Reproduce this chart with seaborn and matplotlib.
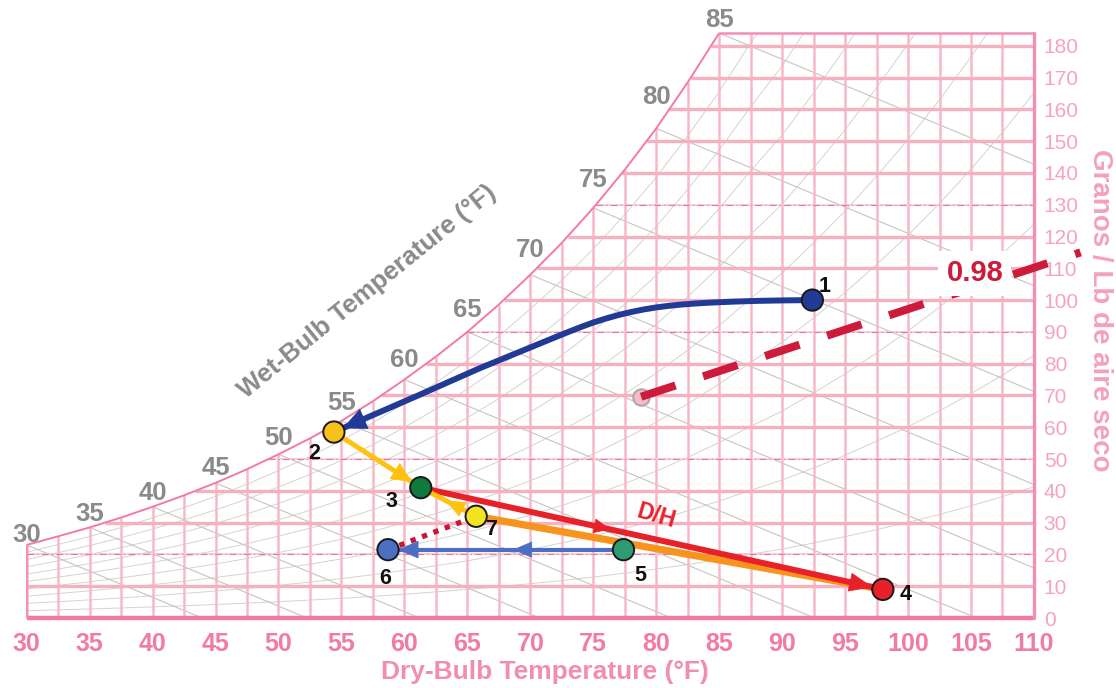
import numpy as np
import matplotlib
matplotlib.use("Agg")
import matplotlib.pyplot as plt
import seaborn as sns
import pandas as pd
from matplotlib.patches import Polygon

# ---------------- data ----------------
# saturation curve (dry-bulb °F -> grains / lb dry air)
sat_t = [30, 32.5, 35, 37.5, 40, 42.5, 45, 47.5, 50, 52.5, 55, 57.5, 60,
         62.5, 65, 67.5, 70, 72.5, 75, 77.5, 80, 82.5, 85]
sat_w = [23, 25.7, 28.5, 31.6, 35, 38.6, 42.5, 46.8, 51.5, 56.5, 62, 68.2, 75,
         82.2, 90, 98.6, 108, 118, 129, 141, 154, 168.5, 184]
# saturation continued past the top of the chart (for the background RH curves)
sat_ext_t = [87.5, 90, 92.5, 95, 97.5, 100, 102.5, 105, 107.5, 110]
sat_ext_w = [201, 217, 236, 256, 278, 301, 326, 353, 382, 413]

wb_labels = [30, 35, 40, 45, 50, 55, 60, 65, 70, 75, 80, 85]
x_ticks = list(range(30, 111, 5))
y_ticks = list(range(0, 181, 10))
rh_levels = [0.1, 0.2, 0.3, 0.4, 0.5, 0.6, 0.7, 0.8, 0.9]

# process states
state_id = ["1", "2", "3", "4", "5", "6", "7"]
state_t = [92.4, 54.4, 61.3, 98.0, 77.4, 58.7, 65.7]
state_w = [100.0, 58.5, 41.0, 9.0, 21.5, 21.5, 32.0]
state_color = ["#213a96", "#f6c21a", "#0f7a3c", "#e8202a", "#2f9b72", "#4c6fc2", "#f2e421"]

# curved path 1 -> 2
path12_t = [92.4, 90.0, 88.0, 86.0, 84.0, 83.0, 82.0, 81.0, 80.0, 79.0, 78.0, 77.0,
            76.0, 75.0, 74.0, 73.0, 72.0, 66.0, 61.2, 54.4]
path12_w = [100.0, 99.9, 99.75, 99.5, 99.15, 98.9, 98.6, 98.2, 97.7, 97.05, 96.25, 95.3,
            94.2, 92.95, 91.5, 89.95, 88.35, 78.6, 70.2, 58.5]

# sensible-heat-ratio line "0.98"
shr_t = [78.8, 113.7]
shr_w = [69.6, 115.0]
shr_label = "0.98"

# ---------------- figure ----------------
sns.set_theme(style="white")
plt.rcParams["font.family"] = ["Liberation Sans", "DejaVu Sans"]

fig = plt.figure(figsize=(11.16, 6.88), dpi=100)
ax = fig.add_axes([0.0239, 0.1017, 0.9026, 0.8503])
ax.set_xlim(30, 110)
ax.set_ylim(0, 184)
for s in ax.spines.values():
    s.set_visible(False)
ax.set_facecolor("white")

st = np.array(sat_t, float)
sw = np.array(sat_w, float)
all_t = np.concatenate([st, sat_ext_t])
all_w = np.concatenate([sw, sat_ext_w])

# clip region: under saturation curve
clip_xy = [(30, 0)] + list(zip(st, sw)) + [(110, 184), (110, 0)]
clip_poly = Polygon(clip_xy, closed=True, transform=ax.transData, facecolor="none", edgecolor="none")
ax.add_patch(clip_poly)

PINK_V = "#f8b9c6"
PINK_H = "#f7b0c0"
MAG = "#e874ad"

# background RH curves (light grey)
for lv in rh_levels:
    ln, = ax.plot(all_t, all_w * lv, color="#d3d3d3", lw=0.7, zorder=1)
    ln.set_clip_path(clip_poly)

# wet-bulb lines (grey, down-right)
for twb in np.arange(30, 86, 5):
    w0 = np.interp(twb, st, sw)
    ln, = ax.plot([twb, twb + w0 / 1.65], [w0, 0], color="#c4c4c4", lw=0.8, zorder=1)
    ln.set_clip_path(clip_poly)

# vertical grid every 2.5 °F
for t in np.arange(30, 110.01, 2.5):
    top = min(np.interp(t, st, sw), 184) if t <= 85 else 184
    ax.plot([t, t], [0, top], color=PINK_V, lw=1.8, zorder=2, solid_capstyle="butt")

# horizontal grid every 10 grains
light_rows = {20, 50, 90, 130}
for w in y_ticks[1:]:
    x0 = np.interp(w, sw, st)
    if w in light_rows:
        ax.plot([x0, 110], [w, w], color="#f6c6d2", lw=1.2, zorder=2)
        ax.plot([x0, 110], [w, w], color=MAG, lw=0.8, zorder=2, dashes=(6, 3, 1, 3))
    else:
        ax.plot([x0, 110], [w, w], color=PINK_H, lw=2.4, zorder=2, solid_capstyle="butt")

# saturation curve and borders
ax.plot(st, sw, color="#f27aa6", lw=1.4, zorder=3)
ax.plot([30, 110], [0, 0], color="#f27aa6", lw=3.2, zorder=3, solid_capstyle="butt", clip_on=False)
ax.plot([110, 110], [0, 184], color="#f48fb3", lw=2.4, zorder=3, clip_on=False)
ax.plot([85, 110], [184, 184], color="#f48fb3", lw=1.8, zorder=3, clip_on=False)
ax.plot([30, 30], [0, sw[0]], color="#f48fb3", lw=1.4, zorder=3, clip_on=False)

# wet-bulb labels along the curve
top_limit_px = ax.transData.transform((0, 188))[1]
for t in wb_labels:
    w = np.interp(t, st, sw)
    slope = np.interp(t + 0.5, st, sw) - np.interp(t - 0.5, st, sw)
    slope_px = slope * 3.18 / 12.59
    dy = 8 + 17 * slope_px
    ypix = min(ax.transData.transform((t, w))[1] + dy, top_limit_px)
    ytxt = ax.transData.inverted().transform((0, ypix))[1]
    ax.text(t, ytxt, str(t), ha="center", va="center", fontsize=18.5, fontweight="bold",
            color="#8a8a8a", zorder=5)

ax.text(57.05, 102.5, "Wet-Bulb Temperature (°F)", rotation=39, rotation_mode="anchor",
        ha="center", va="center", fontsize=18.5, fontweight="bold", color="#8a8a8a", zorder=5)

# ---------------- process lines ----------------
P = {k: (t, w) for k, t, w in zip(state_id, state_t, state_w)}

def seg_point(a, b, f):
    return (a[0] + (b[0] - a[0]) * f, a[1] + (b[1] - a[1]) * f)

def head(tip, back, color, length=1.4, width=0.6, scale=10, shrink=0):
    ax.annotate("", xy=tip, xytext=back,
                arrowprops=dict(arrowstyle=f"-|>,head_length={length},head_width={width}",
                                mutation_scale=scale, color=color, lw=0.5,
                                shrinkA=0, shrinkB=shrink),
                zorder=7)

# 1 -> 2 (navy curve)
df12 = pd.DataFrame({"t": path12_t, "w": path12_w})
sns.lineplot(data=df12, x="t", y="w", sort=False, estimator=None, color="#213a96",
             lw=4.3, ax=ax, zorder=6)
head(P["2"], (path12_t[-2], path12_w[-2]), "#213a96", length=1.6, width=0.75, shrink=7)

# orange 4 -> 7
ax.plot([P["4"][0], P["7"][0]], [P["4"][1], P["7"][1]], color="#f7941d", lw=5.2,
        zorder=5, solid_capstyle="round")
# red 3 -> 4
ax.plot([P["3"][0], P["4"][0]], [P["3"][1], P["4"][1]], color="#e8202a", lw=4.3, zorder=6)
head(P["4"], P["3"], "#e8202a", length=1.6, width=0.65, shrink=7.5)
head(seg_point(P["3"], P["4"], 0.41), P["3"], "#e8202a", length=1.1, width=0.5)
# yellow 2 -> 3
ax.plot([P["2"][0], P["3"][0]], [P["2"][1], P["3"][1]], color="#ffc20e", lw=3.6, zorder=6)
head(P["3"], P["2"], "#ffc20e", length=1.4, width=0.65, shrink=7.5)
# yellow 7 -> 3
ax.plot([P["7"][0], P["3"][0]], [P["7"][1], P["3"][1]], color="#ffc20e", lw=3.6, zorder=6)
head(seg_point(P["7"], P["3"], 0.55), P["7"], "#ffc20e", length=1.3, width=0.55)
# blue 5 -> 6
ax.plot([P["5"][0], P["6"][0]], [P["5"][1], P["6"][1]], color="#4c6fc2", lw=3.0, zorder=6)
head(seg_point(P["5"], P["6"], 0.47), P["5"], "#4c6fc2", length=1.3, width=0.55)
head(P["6"], P["5"], "#4c6fc2", length=1.4, width=0.6, shrink=7)
# dotted red 6 -> 7
ax.plot([P["6"][0], P["7"][0]], [P["6"][1], P["7"][1]], color="#c8163a", lw=3.8,
        dashes=(1.0, 1.3), zorder=5)

# SHR dashed line with label
ax.scatter([shr_t[0]], [shr_w[0]], s=140, color="#f3bccb", edgecolor="#b3a5ab", lw=1.5, zorder=6)
ax.plot(shr_t, shr_w, color="#cc1b3b", lw=5.8, dashes=(4.5, 3.6), solid_capstyle="butt",
        dash_capstyle="butt", zorder=7, clip_on=False)
ax.text(105.3, 108.4, shr_label, ha="center", va="center", fontsize=21, fontweight="bold",
        color="#cc1b3b", zorder=8,
        bbox=dict(boxstyle="square,pad=0.28", facecolor="white", edgecolor="none"))

ax.text(80.0, 32.0, "D/H", rotation=-16, ha="center", va="center", fontsize=16.5,
        fontweight="bold", color="#e8202a", zorder=8)

# state markers
df_states = pd.DataFrame({"t": state_t, "w": state_w, "id": state_id})
sns.scatterplot(data=df_states, x="t", y="w", hue="id", palette=state_color, s=235,
                edgecolor="#1a1a1a", linewidth=1.4, legend=False, ax=ax, zorder=9)

label_offset = {"1": (12, 14), "2": (-20, -21), "3": (-29, -14), "4": (23, -5),
                "5": (17, -26), "6": (-3, -29), "7": (15, -13)}
for k in state_id:
    ax.annotate(k, xy=P[k], xytext=label_offset[k], textcoords="offset pixels",
                ha="center", va="center", fontsize=15.5, fontweight="bold", color="#111111",
                zorder=10)

# ---------------- axes text ----------------
ax.set_xticks(x_ticks)
ax.set_yticks(y_ticks)
ax.set_xticklabels([str(v) for v in x_ticks])
ax.set_yticklabels([str(v) for v in y_ticks])
ax.yaxis.tick_right()
ax.tick_params(axis="x", length=0, pad=10, labelsize=18, labelcolor="#f27aa6")
ax.tick_params(axis="y", length=0, pad=7, labelsize=15, labelcolor="#f5a3bf",
               left=False, right=False, labelleft=False, labelright=True)
for lbl in ax.get_xticklabels():
    lbl.set_fontweight("bold")

ax.set_xlabel("Dry-Bulb Temperature (°F)", fontsize=19, fontweight="bold", color="#f28db2")
ax.xaxis.set_label_coords(0.5145, -0.0923)
ax.xaxis.label.set_va("center")
ax.yaxis.set_label_position("right")
ax.set_ylabel("Granos / Lb de aire seco", fontsize=20, fontweight="bold", color="#f4a0bf",
              rotation=-90)
ax.yaxis.set_label_coords(1.0655, 0.5265)
ax.yaxis.label.set_va("center")
ax.yaxis.label.set_ha("center")

fig.savefig("out.png", dpi=100)
